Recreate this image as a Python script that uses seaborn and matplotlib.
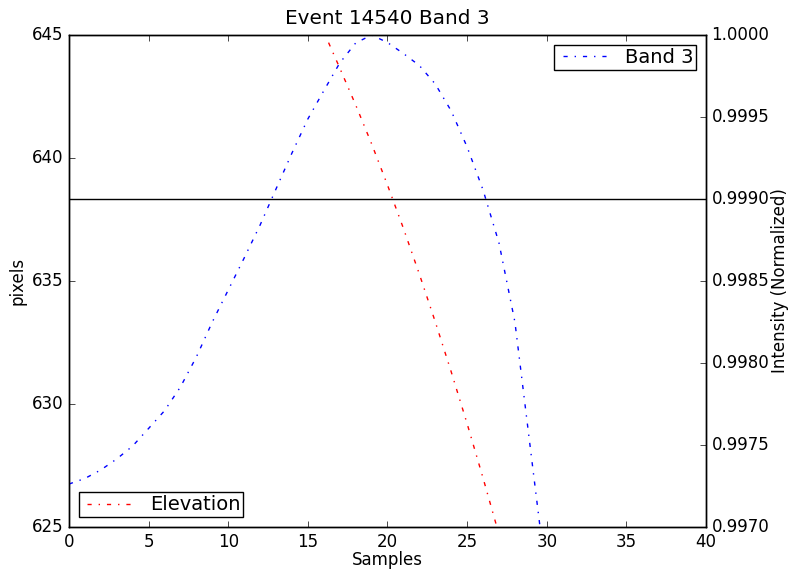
import numpy as np
import pandas as pd
import matplotlib
matplotlib.use("Agg")
import matplotlib.pyplot as plt
import seaborn as sns
from matplotlib.ticker import FormatStrFormatter

# elevation (left axis, pixels)
elev_x = [16.3, 17, 18, 19, 20, 21, 22, 23, 24, 25, 26, 27, 28]
elev_y = [644.69, 643.66, 642.16, 640.58, 638.90, 637.14, 635.28,
          633.34, 631.31, 629.20, 626.99, 624.70, 622.32]

# band 3 intensity (right axis, normalized)
band_x = list(range(0, 31))
band_y = [0.997262, 0.997296, 0.997348, 0.997415, 0.997494, 0.997601,
          0.997709, 0.997854, 0.998037, 0.998250, 0.998445, 0.998640,
          0.998841, 0.999061, 0.999280, 0.999488, 0.999660, 0.999829,
          0.999951, 1.000000, 0.999954, 0.999887, 0.999814, 0.999701,
          0.999537, 0.999317, 0.999055, 0.998732, 0.998250, 0.997457,
          0.996665]

threshold = 0.999

plt.style.use('classic')
fig = plt.figure(figsize=(7.9, 5.69), dpi=100, facecolor='white')
ax = fig.add_axes([0.0873, 0.0738, 0.8064, 0.8647])
ax2 = ax.twinx()

df_elev = pd.DataFrame({'x': elev_x, 'y': elev_y})
df_band = pd.DataFrame({'x': band_x, 'y': band_y})

sns.lineplot(data=df_elev, x='x', y='y', ax=ax, color='red', linestyle='-.',
             linewidth=1, label='Elevation', sort=False)
sns.lineplot(data=df_band, x='x', y='y', ax=ax2, color='blue', linestyle='-.',
             linewidth=1, label='Band 3', sort=False)
ax2.axhline(threshold, color='black', linewidth=1)

ax.set_xlim(0, 40)
ax.set_ylim(625, 645)
ax.set_yticks([625, 630, 635, 640, 645])
ax2.set_ylim(0.997, 1.0)
ax2.set_yticks(np.arange(0.997, 1.00001, 0.0005))
ax2.yaxis.set_major_formatter(FormatStrFormatter('%.4f'))

ax.set_xlabel('Samples', fontsize=12, labelpad=0)
ax.set_ylabel('pixels', fontsize=12, labelpad=4)
ax2.set_ylabel('Intensity (Normalized)', fontsize=12, labelpad=1)
ax.set_title('Event 14540 Band 3', pad=8)

leg1 = ax.legend(loc='lower left', fontsize=14, handlelength=2.9,
                 handletextpad=0.6, borderpad=0.15, borderaxespad=0.5)
leg1.get_frame().set_linewidth(1)
leg2 = ax2.legend(loc='upper right', fontsize=14, handlelength=2.9,
                  handletextpad=0.6, borderpad=0.15, borderaxespad=0.5)
leg2.get_frame().set_linewidth(1)

fig.savefig('out.png', dpi=100, facecolor='white')
